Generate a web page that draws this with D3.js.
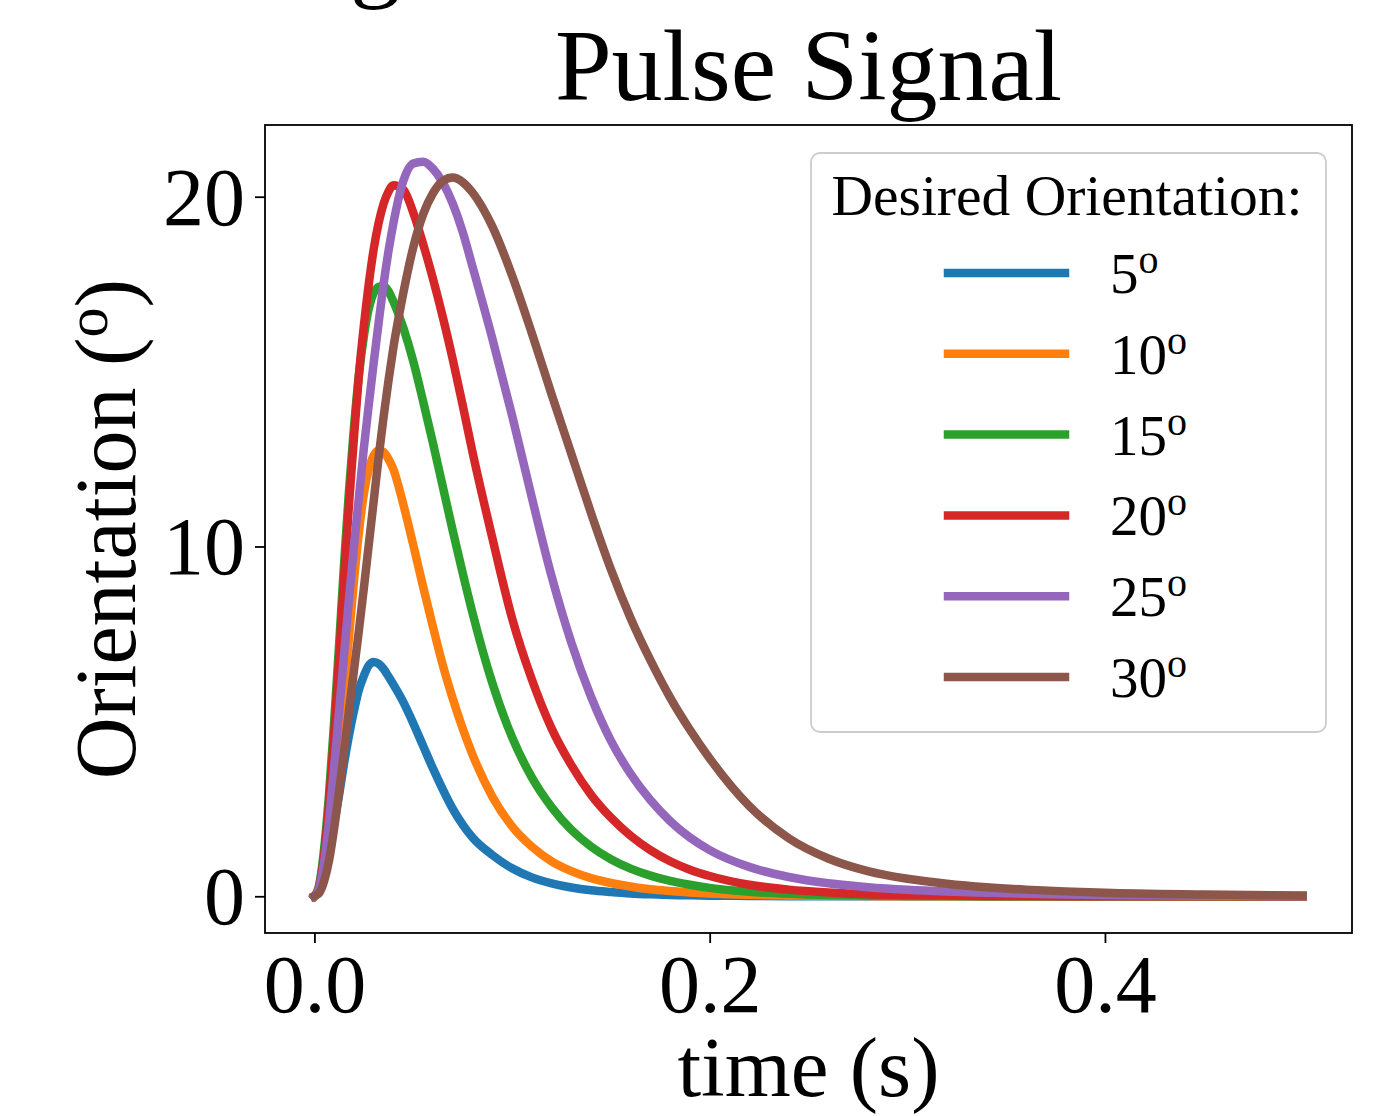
<!DOCTYPE html>
<html><head><meta charset="utf-8">
<script src="https://cdn.jsdelivr.net/npm/d3@7"></script>
<style>body{margin:0;background:#fff}</style>
</head><body>
<svg id="chart" width="1386" height="1116"></svg>
<script>
// ---- data ----
const times = [0, 0.0025, 0.005, 0.0075, 0.01, 0.0125, 0.015, 0.0175, 0.02, 0.0225, 0.025, 0.0275, 0.03, 0.0325, 0.035, 0.0375, 0.04, 0.045, 0.05, 0.055, 0.06, 0.065, 0.07, 0.075, 0.08, 0.09, 0.10, 0.11, 0.12, 0.13, 0.14, 0.15, 0.16, 0.17, 0.18, 0.19, 0.20, 0.22, 0.24, 0.26, 0.28, 0.30, 0.32, 0.34, 0.36, 0.38, 0.40, 0.45, 0.50];

const orient5  = [0, 0.15, 0.6, 1.3, 2.1, 2.9, 3.8, 4.6, 5.3, 5.9, 6.3, 6.6, 6.7, 6.65, 6.5, 6.28, 6.05, 5.55, 4.95, 4.3, 3.65, 3.05, 2.5, 2.05, 1.68, 1.18, 0.8, 0.54, 0.37, 0.25, 0.17, 0.12, 0.08, 0.055, 0.038, 0.026, 0.018, 0.009, 0.004, 0.002, 0.001, 0, 0, 0, 0, 0, 0, 0, 0];
const orient10 = [0, 0.2, 0.8, 1.8, 3.0, 4.4, 5.9, 7.4, 9.0, 10.4, 11.5, 12.2, 12.6, 12.75, 12.7, 12.5, 12.2, 11.2, 10.05, 8.85, 7.7, 6.6, 5.65, 4.8, 4.05, 2.85, 2.0, 1.42, 1.0, 0.72, 0.52, 0.38, 0.28, 0.2, 0.15, 0.11, 0.08, 0.043, 0.023, 0.012, 0.006, 0.003, 0.0015, 0, 0, 0, 0, 0, 0];
const orient15 = [0, 0.35, 1.4, 3.0, 5.0, 7.2, 9.5, 11.6, 13.4, 14.9, 16.0, 16.8, 17.25, 17.42, 17.45, 17.3, 17.0, 16.25, 15.3, 14.15, 12.95, 11.7, 10.45, 9.25, 8.1, 6.1, 4.55, 3.4, 2.55, 1.9, 1.42, 1.06, 0.79, 0.59, 0.44, 0.33, 0.24, 0.13, 0.07, 0.035, 0.018, 0.009, 0.005, 0.002, 0, 0, 0, 0, 0];
const orient20 = [0, 0.3, 1.2, 2.7, 4.6, 6.8, 9.1, 11.2, 13.1, 14.9, 16.3, 17.5, 18.5, 19.25, 19.8, 20.15, 20.33, 20.2, 19.55, 18.65, 17.65, 16.55, 15.35, 14.05, 12.7, 10.25, 7.95, 6.2, 4.8, 3.75, 2.9, 2.25, 1.73, 1.32, 1.0, 0.76, 0.58, 0.33, 0.19, 0.11, 0.06, 0.035, 0.02, 0.011, 0.006, 0.003, 0.002, 0, 0];
const orient25 = [0, 0.25, 1.0, 2.2, 3.7, 5.3, 6.9, 8.5, 10.0, 11.4, 12.8, 14.05, 15.25, 16.4, 17.5, 18.45, 19.25, 20.45, 20.95, 21.0, 20.8, 20.4, 19.8, 19.0, 18.0, 15.95, 13.75, 11.4, 9.15, 7.25, 5.7, 4.45, 3.5, 2.75, 2.15, 1.68, 1.32, 0.84, 0.55, 0.37, 0.26, 0.185, 0.135, 0.1, 0.072, 0.052, 0.038, 0.016, 0.007];
const orient30 = [0, 0.1, 0.45, 1.05, 1.95, 3.0, 4.15, 5.3, 6.45, 7.6, 8.8, 10.05, 11.3, 12.55, 13.7, 14.75, 15.7, 17.25, 18.55, 19.5, 20.1, 20.45, 20.55, 20.42, 20.12, 19.15, 17.75, 16.1, 14.35, 12.65, 10.95, 9.35, 7.95, 6.75, 5.68, 4.76, 3.94, 2.58, 1.66, 1.08, 0.72, 0.5, 0.36, 0.26, 0.19, 0.14, 0.1, 0.05, 0.02];

const legendLabels = ["5", "10", "15", "20", "25", "30"];
const seriesColors = ["#1f77b4", "#ff7f0e", "#2ca02c", "#d62728", "#9467bd", "#8c564b"];
const xTickValues = [0.0, 0.2, 0.4];
const yTickValues = [0, 10, 20];

const titleText = "Pulse Signal";
const xLabelText = "time (s)";
const yLabelText = "Orientation (";
const legendTitle = "Desired Orientation:";

(function () {
  // ---- layout ----
  const FONT = "'Liberation Serif','Times New Roman',Times,serif";
  const L = 265, R = 1352, T = 125, B = 933;
  const svg = d3.select("#chart");

  const series = [orient5, orient10, orient15, orient20, orient25, orient30];
  const allVals = series.flat();
  const yMin = d3.min(allVals), yMax = d3.max(allVals);
  const yPad = (yMax - yMin) * 0.05;
  const x = d3.scaleLinear().domain([-0.025, 0.525]).range([L, R]);
  const y = d3.scaleLinear().domain([yMin - yPad, yMax + yPad]).range([B, T]);

  svg.append("defs").append("clipPath").attr("id", "clip")
    .append("rect").attr("x", L).attr("y", T).attr("width", R - L).attr("height", B - T);

  // fragment of text from above the figure (cropped in the original)
  svg.append("text").attr("x", 350).attr("y", -12).attr("font-family", FONT).attr("font-size", 102).text("g");

  // title
  svg.append("text").attr("x", (L + R) / 2).attr("y", 100)
    .attr("text-anchor", "middle").attr("font-family", FONT).attr("font-size", 102).text(titleText);

  // lines
  const line = d3.line().x((d, i) => x(times[i])).y(d => y(d)).curve(d3.curveMonotoneX);
  const gLines = svg.append("g").attr("clip-path", "url(#clip)");
  series.forEach((s, k) => {
    gLines.append("path").datum(s)
      .attr("d", line)
      .attr("fill", "none")
      .attr("stroke", seriesColors[k])
      .attr("stroke-width", 8.5)
      .attr("stroke-linecap", "square")
      .attr("stroke-linejoin", "round");
  });

  // axes
  const xAxis = d3.axisBottom(x).tickValues(xTickValues).tickFormat(d3.format(".1f"))
    .tickSize(10).tickSizeOuter(0).tickPadding(11);
  const yAxis = d3.axisLeft(y).tickValues(yTickValues).tickFormat(d3.format("d"))
    .tickSize(10).tickSizeOuter(0).tickPadding(10);

  const gx = svg.append("g").attr("transform", `translate(0,${B})`).call(xAxis);
  const gy = svg.append("g").attr("transform", `translate(${L},0)`).call(yAxis);
  [gx, gy].forEach(g => {
    g.select(".domain").remove();
    g.selectAll(".tick line").attr("stroke", "#000").attr("stroke-width", 1.8);
    g.selectAll(".tick text").attr("font-family", FONT).attr("font-size", 82).attr("fill", "#000");
  });
  gy.selectAll(".tick text").attr("dy", "0.335em");

  // frame
  svg.append("rect").attr("x", L).attr("y", T).attr("width", R - L).attr("height", B - T)
    .attr("fill", "none").attr("stroke", "#000").attr("stroke-width", 1.8);

  // x label
  svg.append("text").attr("x", (L + R) / 2).attr("y", 1096)
    .attr("text-anchor", "middle").attr("font-family", FONT).attr("font-size", 85).text(xLabelText);

  // y label
  const yl = svg.append("text").attr("transform", `translate(135,${(T + B) / 2}) rotate(-90)`)
    .attr("text-anchor", "middle").attr("font-family", FONT).attr("font-size", 86);
  yl.append("tspan").text(yLabelText);
  yl.append("tspan").attr("font-size", 60).attr("dy", -28).text("o");
  yl.append("tspan").attr("dy", 28).text(")");

  // legend
  const lg = svg.append("g");
  lg.append("rect").attr("x", 811).attr("y", 153).attr("width", 515).attr("height", 579)
    .attr("rx", 9).attr("fill", "#fff").attr("fill-opacity", 0.8)
    .attr("stroke", "#cccccc").attr("stroke-width", 1.8);
  lg.append("text").attr("x", 1067).attr("y", 215).attr("text-anchor", "middle")
    .attr("font-family", FONT).attr("font-size", 57.5).text(legendTitle);
  legendLabels.forEach((lab, k) => {
    const cy = 273 + k * 80.8;
    lg.append("line").attr("x1", 948).attr("x2", 1065).attr("y1", cy).attr("y2", cy)
      .attr("stroke", seriesColors[k]).attr("stroke-width", 8.5).attr("stroke-linecap", "square");
    const t = lg.append("text").attr("x", 1110).attr("y", cy + 20)
      .attr("font-family", FONT).attr("font-size", 57);
    t.append("tspan").text(lab);
    t.append("tspan").attr("font-size", 40).attr("dy", -20).text("o");
  });
})();
</script>
</body></html>
